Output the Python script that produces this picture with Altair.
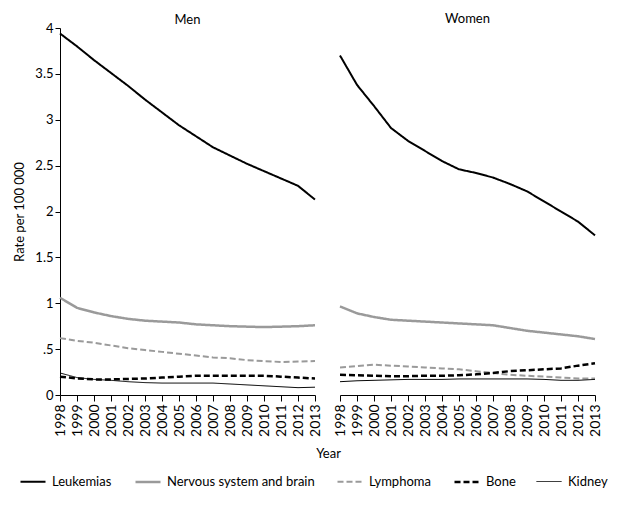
import altair as alt
import pandas as pd

years = list(range(1998, 2014))
series = ["Leukemias", "Nervous system and brain", "Lymphoma", "Bone", "Kidney"]

men_leukemias = [3.94, 3.80, 3.65, 3.51, 3.37, 3.22, 3.08, 2.94, 2.82, 2.70, 2.61, 2.52, 2.44, 2.36, 2.28, 2.13]
men_nervous = [1.06, 0.95, 0.90, 0.86, 0.83, 0.81, 0.80, 0.79, 0.77, 0.76, 0.75, 0.745, 0.74, 0.745, 0.75, 0.76]
men_lymphoma = [0.62, 0.59, 0.57, 0.54, 0.51, 0.49, 0.47, 0.45, 0.43, 0.41, 0.40, 0.38, 0.37, 0.36, 0.365, 0.37]
men_bone = [0.20, 0.18, 0.17, 0.17, 0.175, 0.18, 0.19, 0.20, 0.21, 0.21, 0.21, 0.21, 0.21, 0.20, 0.19, 0.18]
men_kidney = [0.24, 0.19, 0.17, 0.16, 0.145, 0.135, 0.13, 0.13, 0.13, 0.13, 0.12, 0.11, 0.10, 0.09, 0.08, 0.085]

women_leukemias = [3.70, 3.38, 3.15, 2.91, 2.77, 2.66, 2.55, 2.46, 2.42, 2.37, 2.30, 2.22, 2.11, 2.00, 1.89, 1.74]
women_nervous = [0.965, 0.89, 0.85, 0.82, 0.81, 0.80, 0.79, 0.78, 0.77, 0.76, 0.73, 0.70, 0.68, 0.66, 0.64, 0.61]
women_lymphoma = [0.30, 0.315, 0.33, 0.32, 0.31, 0.30, 0.29, 0.28, 0.26, 0.24, 0.22, 0.21, 0.20, 0.19, 0.18, 0.18]
women_bone = [0.22, 0.215, 0.21, 0.205, 0.205, 0.21, 0.21, 0.215, 0.225, 0.24, 0.26, 0.27, 0.28, 0.29, 0.32, 0.345]
women_kidney = [0.145, 0.155, 0.16, 0.165, 0.17, 0.17, 0.17, 0.175, 0.175, 0.175, 0.175, 0.175, 0.17, 0.16, 0.16, 0.17]

rows = []
for sex, lists in [("Men", [men_leukemias, men_nervous, men_lymphoma, men_bone, men_kidney]),
                   ("Women", [women_leukemias, women_nervous, women_lymphoma, women_bone, women_kidney])]:
    for name, vals in zip(series, lists):
        for y, v in zip(years, vals):
            rows.append({"sex": sex, "series": name, "year": y, "rate": v})
df = pd.DataFrame(rows)

FONT = "Lato"

color = alt.Color("series:N", scale=alt.Scale(domain=series, range=["#000000", "#9a9a9a", "#9a9a9a", "#000000", "#000000"]),
                  legend=alt.Legend(title=None, orient="none", legendX=-41, legendY=440,
                                    direction="horizontal", columns=5,
                                    columnPadding=18, labelOffset=5, labelFontSize=13, labelFont=FONT,
                                    symbolType="stroke", symbolSize=625, labelColor="black"))
dash = alt.StrokeDash("series:N", scale=alt.Scale(domain=series, range=[[1, 0], [1, 0], [6, 3], [6, 3], [1, 0]]))
sw = alt.StrokeWidth("series:N", scale=alt.Scale(type="ordinal", domain=series, range=[2, 2.5, 2, 2.5, 1]))

yscale = alt.Scale(domain=[0, 4], nice=False)
xscale = alt.Scale(domain=[1998, 2013], nice=False, zero=False)

def xaxis(title, tx=None):
    kw = dict(values=years, format="d", labelAngle=270, labelFontSize=14, labelFont=FONT, labelColor="black",
              tickColor="black", domainColor="black", tickSize=6, grid=False, labelPadding=3,
              titleFontSize=13, titleFont=FONT, titleFontWeight="normal", titleColor="black")
    if title:
        kw["title"] = title
        kw["titleX"] = tx
        kw["titleY"] = 52
        kw["titleAnchor"] = "middle"
    else:
        kw["title"] = None
    return alt.Axis(**kw)

def panel(sex, with_y):
    if with_y:
        yaxis = alt.Axis(values=[0, 0.5, 1, 1.5, 2, 2.5, 3, 3.5, 4],
                         labelExpr="datum.value == 0.5 ? '.5' : format(datum.value, '~g')",
                         title="Rate per 100 000", labelFontSize=13, labelFont=FONT, labelColor="black",
                         titleFontSize=13, titleFont=FONT, titleFontWeight="normal", titleColor="black",
                         tickColor="black", domainColor="black", tickSize=5, grid=False, titlePadding=8)
        x = alt.X("year:Q", scale=xscale, axis=xaxis("Year", 268))
        off = -5
    else:
        yaxis = None
        x = alt.X("year:Q", scale=xscale, axis=xaxis(None))
        off = 2
    return alt.Chart(df[df.sex == sex]).mark_line().encode(
        x=x,
        y=alt.Y("rate:Q", scale=yscale, axis=yaxis),
        color=color, strokeDash=dash, strokeWidth=sw,
        detail="series:N",
    ).properties(width=255, height=367,
                 title=alt.TitleParams(sex, fontSize=13, font=FONT, fontWeight="normal", color="black", offset=off))

chart = alt.hconcat(panel("Men", True), panel("Women", False), spacing=25, bounds="flush").properties(
    padding={"left": 5, "top": 5, "right": 0, "bottom": 0}
).configure(font=FONT, view=alt.ViewConfig(stroke=None))

chart.save("out.html", embed_options={"renderer": "svg", "actions": False})
